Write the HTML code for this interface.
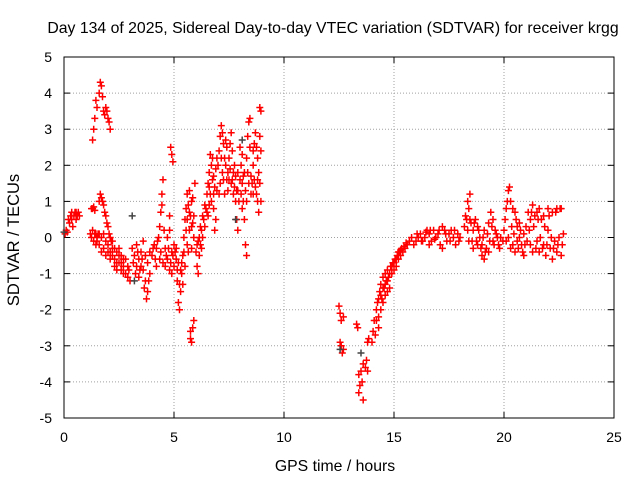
<!DOCTYPE html>
<html><head><meta charset="utf-8"><style>
body{margin:0;background:#fff}
svg{display:block;font-family:"Liberation Sans",sans-serif}
</style></head><body>
<svg width="640" height="480" viewBox="0 0 640 480">
<g id="grid"></g>
<g id="axes"></g>
<g id="marks"></g>
<g id="marks2"></g>
<text x="333" y="33" text-anchor="middle" font-size="15.8">Day 134 of 2025, Sidereal Day-to-day VTEC variation (SDTVAR) for receiver krgg</text>
<text x="335" y="471" text-anchor="middle" font-size="15.8">GPS time / hours</text>
<text transform="translate(19,240) rotate(-90)" text-anchor="middle" font-size="16.5">SDTVAR / TECUs</text>
</svg>
<script>
const xTicks=[0,5,10,15,20,25];
const yTicks=[-5,-4,-3,-2,-1,0,1,2,3,4,5];
const sdtvar=[[0.05,0.1],[0.15,0.15],[0.25,0.4],[0.3,0.6],[0.35,0.5],[0.4,0.3],[0.45,0.6],[0.5,0.7],[0.55,0.5],[0.6,0.6],[0.65,0.7],[0.7,0.6],
[1.3,0.8],[1.35,0.85],[1.4,0.75],[1.2,0.1],[1.25,0.0],[1.3,0.2],[1.35,-0.1],[1.4,0.1],[1.45,-0.2],[1.5,0.0],[1.55,0.1],
[1.3,2.7],[1.35,3.0],[1.4,3.3],[1.45,3.8],[1.5,3.6],[1.6,4.0],[1.65,4.3],[1.7,4.2],[1.75,3.9],[1.8,3.5],[1.85,3.4],[1.9,3.6],[1.95,3.5],[2.0,3.3],[2.05,3.2],[2.1,3.0],
[1.6,1.0],[1.65,1.2],[1.7,1.1],[1.75,1.0],[1.8,0.9],[1.85,0.7],[1.9,0.6],[1.95,0.4],[2.0,0.3],[2.05,0.1],[2.1,0.0],[2.15,-0.1],
[1.6,-0.2],[1.7,-0.4],[1.8,-0.3],[1.9,-0.5],[2.0,-0.2],[2.1,-0.4],[2.2,-0.5],[2.3,-0.6],[2.4,-0.4],[2.5,-0.7],[2.6,-0.9],[2.7,-0.6],[2.8,-1.0],[2.9,-0.8],[3.0,-1.2],[2.2,-0.1],[2.3,-0.3],[2.4,-0.7],[2.5,-0.3],[2.6,-0.5],[2.7,-1.0],
[3.1,-0.3],[3.2,-0.5],[3.3,-0.2],[3.4,-0.6],[3.5,-0.4],[3.6,-0.9],[3.7,-1.2],[3.8,-1.5],[3.75,-1.7],[3.9,-1.0],[3.3,-0.8],[3.4,-1.1],[3.5,-0.8],[3.6,-0.1],[3.7,-0.5],[3.9,-0.4],[4.0,-0.5],[4.1,-0.2],[4.2,-0.3],[4.3,0.0],[4.2,-0.8],[4.35,-0.6],
[4.35,0.3],[4.4,0.7],[4.45,1.2],[4.5,1.6],[4.45,0.9],
[4.6,-0.3],[4.7,0.0],[4.8,0.2],[4.9,-0.4],[5.0,-0.8],[4.6,-0.8],[4.7,-0.6],[4.8,-0.9],[4.9,-1.0],[5.0,-0.2],[4.85,2.5],[4.9,2.3],[4.95,2.1],[4.8,0.6],
[5.1,-0.6],[5.15,-1.2],[5.2,-1.8],[5.25,-2.0],[5.3,-1.5],[5.35,-1.0],[5.4,-0.5],[5.45,0.0],[5.5,0.5],[5.1,-0.3],[5.2,-0.7],[5.3,-0.9],[5.4,-1.3],[5.5,-0.8],
[5.55,0.8],[5.6,1.2],[5.65,0.9],[5.7,1.3],[5.75,0.6],[5.8,1.0],[5.85,0.4],[5.9,0.0],[5.6,-0.2],[5.7,0.2],[5.8,-0.3],[5.9,0.6],[5.95,1.5],[5.75,-2.6],[5.8,-2.9],[5.85,-2.5],[5.9,-2.3],[5.75,-2.8],
[6.0,-0.4],[6.05,-0.8],[6.1,-1.0],[6.15,-0.5],[6.2,-0.2],[6.25,0.2],[6.3,0.0],[6.35,0.5],[6.4,0.3],[6.45,0.8],[6.5,1.2],[6.1,-0.1],[6.2,0.3],
[6.55,1.5],[6.6,1.8],[6.65,2.3],[6.7,2.0],[6.75,1.6],[6.8,1.2],[6.85,1.4],[6.9,1.9],[6.95,1.3],[6.6,0.9],[6.7,1.0],[6.8,0.8],[6.9,0.5],[6.55,0.6],[6.85,0.2],
[7.0,2.0],[7.05,2.4],[7.1,2.8],[7.15,3.1],[7.2,2.9],[7.25,2.6],[7.3,2.2],[7.35,2.0],[7.4,1.6],[7.45,1.8],[7.5,2.2],[7.1,1.5],[7.2,1.8],[7.3,1.2],[7.4,2.5],
[7.55,2.6],[7.6,2.9],[7.65,2.4],[7.7,1.8],[7.75,1.4],[7.8,1.0],[7.85,0.5],[7.9,0.2],[7.6,1.5],[7.7,1.2],[7.8,1.7],[7.9,1.3],[8.0,1.6],[8.05,2.0],[8.1,1.5],[8.15,1.0],[8.2,0.5],[8.25,-0.2],[8.3,-0.5],[8.2,1.8],[8.3,2.2],[8.35,2.8],[8.4,3.2],[8.45,3.3],[8.0,2.5],[8.1,2.3],[8.4,1.5],[8.5,1.2],[8.3,1.0],
[8.55,1.5],[8.6,2.0],[8.65,2.6],[8.7,2.9],[8.75,2.5],[8.8,2.2],[8.85,1.8],[8.9,2.8],[8.95,3.5],[8.9,3.6],[8.6,1.2],[8.7,1.4],[8.8,1.0],[8.85,0.7],[8.9,1.5],[8.95,1.0],
[12.5,-1.9],[12.55,-2.1],[12.6,-2.3],[12.55,-2.9],[12.6,-3.0],[12.65,-3.2],[12.7,-2.2],[12.7,-3.1],
[13.3,-2.4],[13.35,-2.5],[13.4,-3.8],[13.45,-4.1],[13.4,-4.3],[13.5,-3.7],[13.55,-4.0],[13.6,-4.5],[13.6,-3.5],[13.7,-3.6],[13.75,-3.4],[13.8,-3.7],[13.85,-2.8],[13.8,-2.9],
[14.0,-2.9],[14.05,-2.6],[14.1,-2.3],[14.15,-2.7],[14.2,-2.0],[14.25,-1.8],[14.3,-2.2],[14.35,-1.5],[14.4,-1.3],[14.45,-1.7],[14.5,-1.1],[14.55,-1.4],[14.6,-1.0],[14.65,-1.2],[14.7,-0.9],[14.75,-1.1],[14.8,-1.4],[14.85,-0.8],[14.9,-1.0],[14.95,-0.7],[15.0,-0.9],[15.05,-0.6],[15.1,-0.8],[15.15,-0.5],[15.2,-0.6],[15.25,-0.4],[15.3,-0.5],[15.35,-0.3],[15.4,-0.4],[14.3,-2.5],[14.4,-2.0],[14.5,-1.8],[14.6,-1.6],[14.7,-1.5],
[15.5,-0.3],[15.6,-0.2],[15.7,-0.1],[15.8,0.0],[15.9,-0.2],[16.0,-0.1],[16.1,0.0],[16.2,0.1],[16.3,-0.1],[16.4,0.0],[16.5,0.2],[16.6,0.1],[16.7,-0.1],[16.8,0.2],[16.9,0.0],[17.0,0.1],[17.1,-0.2],[17.2,0.3],[17.3,0.2],[17.4,-0.1],[17.5,0.1],[17.6,0.2],[17.7,0.0],[17.8,-0.2],[17.9,0.1],[18.0,0.0],[16.6,-0.2],[17.2,-0.3],
[18.2,0.3],[18.3,0.5],[18.35,1.0],[18.4,0.8],[18.45,1.2],[18.5,0.4],[18.6,0.2],[18.7,0.5],[18.8,0.3],[18.9,0.0],[19.0,-0.2],[19.1,0.2],[19.2,-0.3],[19.3,0.4],[19.4,0.7],[19.5,0.5],[19.6,0.2],[18.4,-0.1],[18.6,-0.3],[18.8,-0.2],[19.0,-0.5],[19.1,-0.6],[19.3,-0.4],[19.5,-0.1],[19.7,0.0],[19.8,-0.3],
[20.0,0.2],[20.1,0.8],[20.2,1.3],[20.25,1.4],[20.3,1.0],[20.4,0.8],[20.5,0.7],[20.6,0.3],[20.7,0.0],[20.8,-0.2],[20.9,0.1],[20.1,-0.1],[20.2,0.0],[20.3,-0.3],[20.4,-0.2],[20.5,-0.4],[20.6,-0.1],[20.7,0.4],[20.9,-0.5],
[21.0,0.3],[21.1,0.7],[21.2,0.5],[21.3,0.9],[21.4,0.6],[21.5,0.7],[21.6,0.8],[21.7,0.5],[21.8,0.6],[22.0,0.8],[22.2,0.7],[22.4,0.8],[22.6,0.8],[21.2,-0.2],[21.3,-0.4],[21.5,-0.1],[21.6,-0.4],[21.8,-0.2],[21.9,-0.5],[22.0,0.2],[22.1,-0.3],[22.2,-0.6],[22.3,-0.1],[22.4,-0.4],[22.5,0.0],[22.6,-0.5],[22.7,0.1]];
const sdtvarExtra=[[0.1,0.2],[0.2,0.5],[0.35,0.7],[0.55,0.7],[1.25,0.8],[1.45,0.1],[1.5,-0.1],[1.6,0.1],[1.7,0.0],[1.8,0.1],[1.9,-0.1],[2.0,-0.4],[2.1,-0.6],[2.2,-0.3],[2.3,-0.8],[2.4,-0.9],[2.5,-0.5],[2.6,-0.7],[2.7,-0.8],[2.8,-0.6],[2.9,-1.1],[2.95,-0.9],
[3.15,-0.7],[3.25,-1.0],[3.35,-0.4],[3.45,-0.9],[3.55,-0.6],[3.65,-1.4],[3.8,-0.7],[3.85,-1.2],[4.05,-0.3],[4.15,-0.6],[4.25,-0.1],[4.4,-0.4],[4.5,-0.7],[4.55,0.2],[4.65,-0.5],[4.75,-0.3],[4.85,-0.7],[4.95,-0.5],[5.05,-0.4],[5.15,-0.9],[5.25,-1.3],[5.35,-0.7],[5.45,-0.4],[5.55,0.2],[5.6,0.5],[5.65,-0.4],[5.7,0.7],[5.8,0.3],[5.85,1.1],
[6.05,-0.2],[6.15,0.0],[6.25,-0.3],[6.3,0.6],[6.4,0.9],[6.5,0.7],[6.6,1.4],[6.65,1.2],[6.75,2.2],[6.8,1.7],[6.95,2.2],[7.05,1.2],[7.15,2.2],[7.25,1.6],[7.35,2.7],[7.45,1.3],[7.5,1.6],[7.55,1.9],[7.65,1.6],[7.75,2.0],[7.85,1.3],[7.9,1.8],[7.95,1.0],[8.05,1.2],[8.1,0.8],[8.15,1.7],[8.25,1.3],[8.35,1.8],[8.45,2.5],[8.5,1.7],[8.6,2.4],[8.65,1.6],[8.75,1.2],[8.8,1.6],[8.95,2.4],
[14.2,-2.3],[14.3,-1.7],[14.4,-1.6],[14.5,-1.4],[14.6,-1.3],[14.7,-1.2],[14.8,-1.0],[14.9,-0.8],[15.0,-0.7],[15.1,-0.6],[15.2,-0.4],[15.3,-0.35],[15.45,-0.25],[15.55,-0.15],[16.05,0.1],[16.25,-0.1],[16.45,0.15],[16.65,0.2],[16.85,-0.05],[17.05,0.2],[17.35,0.1],[17.55,-0.1],[17.75,0.2],[17.95,-0.1],
[18.25,0.6],[18.35,0.2],[18.45,0.5],[18.55,-0.1],[18.65,0.4],[18.75,-0.1],[18.85,0.2],[18.95,-0.3],[19.05,0.0],[19.15,-0.4],[19.25,0.1],[19.35,-0.1],[19.45,0.3],[19.55,-0.2],[19.65,0.1],[19.75,-0.2],[19.85,0.0],[19.95,-0.1],
[20.05,0.5],[20.15,1.0],[20.35,0.3],[20.45,0.1],[20.55,0.5],[20.65,-0.3],[20.75,0.2],[20.85,-0.4],[20.95,-0.2],[21.05,-0.1],[21.15,0.2],[21.25,0.7],[21.35,0.3],[21.45,-0.3],[21.55,0.5],[21.65,0.0],[21.75,-0.3],[21.85,0.3],[21.95,-0.2],[22.05,0.6],[22.15,0.0],[22.25,-0.3],[22.35,0.7],[22.45,-0.2],[22.55,0.8],[22.65,-0.2]];
const graySeries=[[0.0,0.15],[3.1,0.6],[3.2,-1.2],[8.1,2.7],[12.55,-3.1],[13.5,-3.2],[7.8,0.5]];

const L=64,R=614,T=57,B=418;
const X=h=>L+(h-0)/25*(R-L);
const Y=v=>B-(v+5)/10*(B-T);
const NS='http://www.w3.org/2000/svg';
function mk(tag,parent,attrs){const e=document.createElementNS(NS,tag);for(const k in attrs)e.setAttribute(k,attrs[k]);parent.appendChild(e);return e;}
const grid=document.getElementById('grid'),axes=document.getElementById('axes');
xTicks.forEach(t=>{
  if(t>0&&t<25){const g=mk('line',grid,{x1:X(t),x2:X(t),y1:T,y2:B,stroke:'#a0a0a0','stroke-dasharray':'1,2'});
  
  }
  mk('line',axes,{x1:X(t),x2:X(t),y1:B,y2:B-6,stroke:'#000'});
  mk('line',axes,{x1:X(t),x2:X(t),y1:T,y2:T+6,stroke:'#000'});
  const l=mk('text',axes,{x:X(t),y:B+24,'text-anchor':'middle','font-size':14});l.textContent=t;
  
  
});
yTicks.forEach(t=>{
  if(t>-5&&t<5){const g=mk('line',grid,{x1:L,x2:R,y1:Y(t),y2:Y(t),stroke:'#a0a0a0','stroke-dasharray':'1,2'});
  
  }
  mk('line',axes,{x1:L,x2:L+6,y1:Y(t),y2:Y(t),stroke:'#000'});
  mk('line',axes,{x1:R,x2:R-6,y1:Y(t),y2:Y(t),stroke:'#000'});
  const l=mk('text',axes,{x:L-12,y:Y(t)+5,'text-anchor':'end','font-size':14});l.textContent=t;
  
  
});
const frame=mk('rect',axes,{x:L,y:T,width:R-L,height:B-T,fill:'none',stroke:'#000'});


function draw(data,gid,color){
  const g=document.getElementById(gid);let d='';
  data.forEach(p=>{const x=X(p[0]),y=Y(p[1]);d+=`M${x-3.5},${y}h7M${x},${y-3.5}v7`;});
  const path=mk('path',g,{d:d,stroke:color,'stroke-width':1.5,fill:'none'});
  
  
}
draw(graySeries,'marks2','#444');
draw(sdtvar,'marks','#ff0000');
draw(sdtvarExtra,'marks','#ff0000');
</script>
</body></html>
